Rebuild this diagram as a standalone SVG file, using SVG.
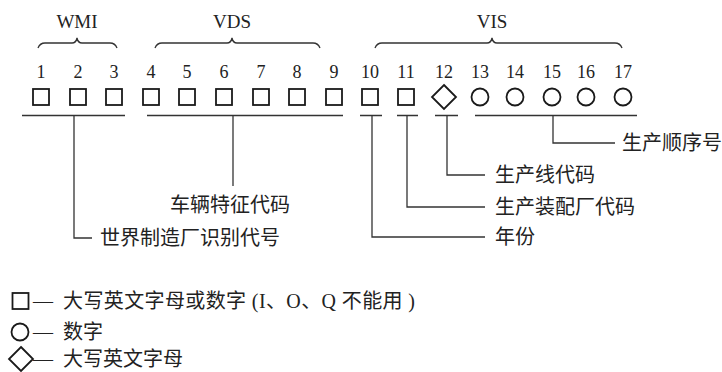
<svg xmlns="http://www.w3.org/2000/svg" width="722" height="372" viewBox="0 0 722 372">
<style>
.num{font-family:"Liberation Serif","Times New Roman",serif;font-size:18px;fill:#222;text-anchor:middle}
.grp{font-family:"Liberation Serif","Times New Roman",serif;font-size:19px;fill:#222;text-anchor:middle}
.lbl{font-family:"Liberation Serif","Noto Sans CJK SC",serif;font-size:20px;fill:#222}
.sym{fill:none;stroke:#1a1a1a;stroke-width:1.8}
.ln{fill:none;stroke:#333;stroke-width:1.3}
.br{fill:none;stroke:#333;stroke-width:1.3}
</style>
<defs>
<rect id="sq" x="-8" y="-8" width="16" height="16" class="sym"/>
<circle id="ci" r="8.5" class="sym"/>
<path id="dm" d="M0,-12 L12,0 L0,12 L-12,0 Z" class="sym"/>
</defs>

<g id="braces">
<text class="grp" x="77" y="28">WMI</text>
<path class="br" d="M38,48 Q40,43 45,43 L72,43 Q76,43 77,38 Q78,43 82,43 L110,43 Q115,43 117,48"/>
<text class="grp" x="232" y="28">VDS</text>
<path class="br" d="M155,48 Q157,43 162,43 L227,43 Q231,43 232,38 Q233,43 237,43 L313,43 Q318,43 320,48"/>
<text class="grp" x="492" y="28">VIS</text>
<path class="br" d="M375,48 Q377,43 382,43 L487,43 Q491,43 492,38 Q493,43 497,43 L615,43 Q620,43 622,48"/>
</g>

<g id="positions">
<g id="p1"><text class="num" x="41" y="78">1</text><use href="#sq" x="41" y="97"/></g>
<g id="p2"><text class="num" x="78" y="78">2</text><use href="#sq" x="78" y="97"/></g>
<g id="p3"><text class="num" x="114" y="78">3</text><use href="#sq" x="114" y="97"/></g>
<g id="p4"><text class="num" x="151" y="78">4</text><use href="#sq" x="151" y="97"/></g>
<g id="p5"><text class="num" x="187" y="78">5</text><use href="#sq" x="187" y="97"/></g>
<g id="p6"><text class="num" x="224" y="78">6</text><use href="#sq" x="224" y="97"/></g>
<g id="p7"><text class="num" x="261" y="78">7</text><use href="#sq" x="261" y="97"/></g>
<g id="p8"><text class="num" x="297" y="78">8</text><use href="#sq" x="297" y="97"/></g>
<g id="p9"><text class="num" x="334" y="78">9</text><use href="#sq" x="334" y="97"/></g>
<g id="p10"><text class="num" x="370" y="78">10</text><use href="#sq" x="370" y="97"/></g>
<g id="p11"><text class="num" x="406" y="78">11</text><use href="#sq" x="406" y="97"/></g>
<g id="p12"><text class="num" x="444" y="78">12</text><use href="#dm" x="444" y="97"/></g>
<g id="p13"><text class="num" x="480" y="78">13</text><use href="#ci" x="480" y="97"/></g>
<g id="p14"><text class="num" x="515" y="78">14</text><use href="#ci" x="515" y="97"/></g>
<g id="p15"><text class="num" x="552" y="78">15</text><use href="#ci" x="552" y="97"/></g>
<g id="p16"><text class="num" x="586" y="78">16</text><use href="#ci" x="586" y="97"/></g>
<g id="p17"><text class="num" x="623" y="78">17</text><use href="#ci" x="623" y="97"/></g>
</g>

<g id="connectors">
<path class="ln" d="M22,115.5 H125 M147,115.5 H343 M360,115.5 H382 M397,115.5 H418 M435,115.5 H458 M475,115.5 H637"/>
<path class="ln" d="M74,115.5 V238 H92"/>
<path class="ln" d="M233,115.5 V186"/>
<path class="ln" d="M372,115.5 V237 H485"/>
<path class="ln" d="M407,115.5 V207 H485"/>
<path class="ln" d="M447,115.5 V175 H485"/>
<path class="ln" d="M553,115.5 V143 H615"/>
</g>

<g id="labels">
<g id="l-wmi"><text class="lbl" x="100" y="245">世界制造厂识别代号</text></g>
<g id="l-vds"><text class="lbl" x="170" y="212">车辆特征代码</text></g>
<g id="l-year"><text class="lbl" x="495" y="244">年份</text></g>
<g id="l-plant"><text class="lbl" x="495" y="214">生产装配厂代码</text></g>
<g id="l-line"><text class="lbl" x="495" y="182">生产线代码</text></g>
<g id="l-seq"><text class="lbl" x="622" y="150">生产顺序号</text></g>
</g>

<g id="legend">
<g id="lg1"><use href="#sq" x="20.5" y="301"/><text class="lbl" y="308"><tspan x="33">—</tspan><tspan x="63" textLength="352" lengthAdjust="spacing">大写英文字母或数字 (I、O、Q 不能用 )</tspan></text></g>
<g id="lg2"><use href="#ci" x="20" y="332"/><text class="lbl" y="339"><tspan x="33">—</tspan><tspan x="63">数字</tspan></text></g>
<g id="lg3"><use href="#dm" x="21" y="359"/><text class="lbl" y="366"><tspan x="33">—</tspan><tspan x="63">大写英文字母</tspan></text></g>
</g>
</svg>
